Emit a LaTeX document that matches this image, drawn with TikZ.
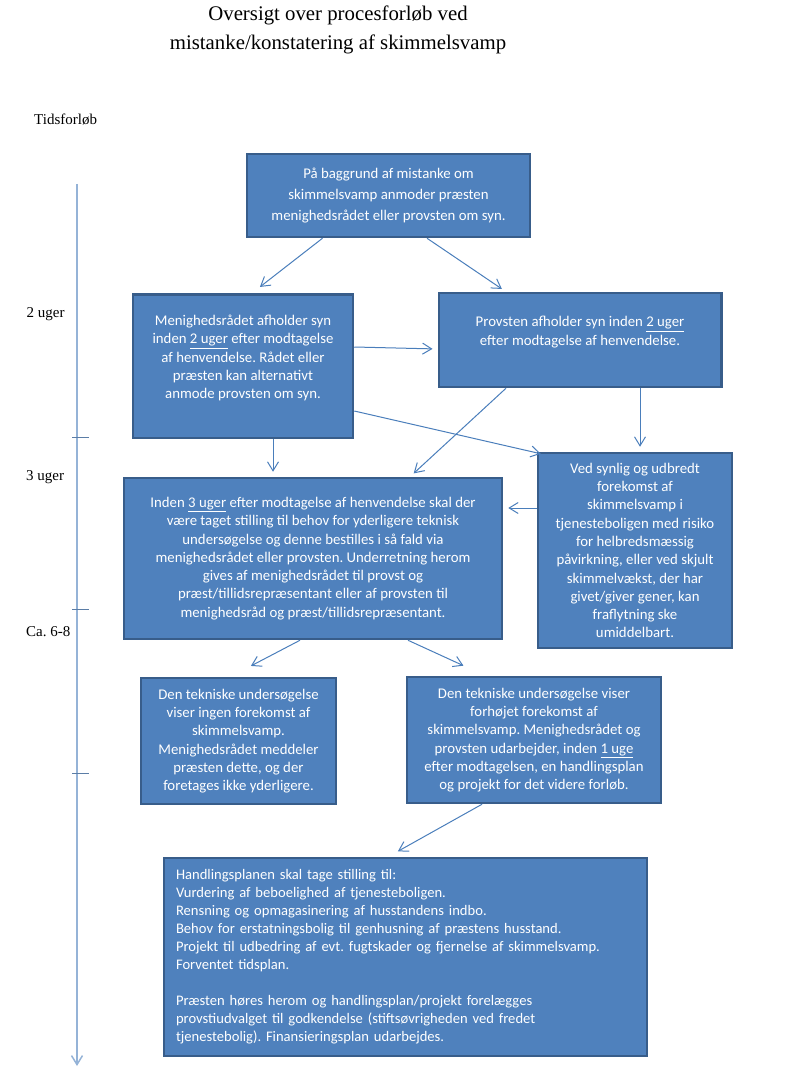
\documentclass[tikz,border=0pt]{standalone}
\usepackage{fontspec}
\setmainfont{Carlito}
\newfontfamily\titelfont{Liberation Serif}
\usetikzlibrary{arrows.meta}
\frenchspacing
\definecolor{boksblaa}{HTML}{4F81BD}
\definecolor{kantblaa}{HTML}{385D8A}
\definecolor{pilblaa}{HTML}{4A7EBB}
\definecolor{tidblaa}{HTML}{95B3D7}
\definecolor{stregblaa}{HTML}{5B7DA6}
\begin{document}
\begin{tikzpicture}[x=1pt,y=-1pt,
  boks/.style={draw=kantblaa,line width=2.5pt,fill=boksblaa,text=white,align=center,
    inner sep=0pt,font=\fontsize{14.8}{18.3}\selectfont},
  pil/.style={draw=pilblaa,line width=1pt,-{Straight Barb[length=9pt,width=11pt]},shorten >=5pt},
  tid/.style={draw=tidblaa,line width=1.5pt,-{Straight Barb[length=9pt,width=11pt]}},
  streg/.style={draw=stregblaa,line width=1pt},
  etiket/.style={anchor=west,inner sep=0pt,font=\titelfont\fontsize{15}{18}\selectfont}]
\useasboundingbox (0,0) rectangle (792,1075);
%
\node[font=\titelfont\fontsize{20.8}{29}\selectfont,align=center](titel) at (338,29.5)
  {Oversigt over procesforløb ved\\mistanke/konstatering af skimmelsvamp};
\node[etiket](tidsforloeb) at (34,120){Tidsforløb};
\node[etiket](uge2) at (26.5,314){2 uger};
\node[etiket](uge3) at (26,477){3 uger};
\node[etiket](uge68) at (26,632){Ca. 6-8};
%
\coordinate(t0) at (77,184);
\coordinate(t1) at (77,1066);
\draw[tid](t0)--(t1);
\foreach \y in {437,609,773}
  \draw[streg](72,\y)--(89,\y);
%
\node[boks,minimum width=283pt,minimum height=83pt,font=\fontsize{14.8}{21.3}\selectfont](start) at (388.5,195.5)
  {På baggrund af mistanke om\\skimmelsvamp anmoder præsten\\menighedsrådet eller provsten om syn.};
\node[boks,minimum width=220pt,minimum height=143.5pt](mr) at (243,366)
  {Menighedsrådet afholder syn\\inden \underline{2 uger} efter modtagelse\\af henvendelse. Rådet eller\\præsten kan alternativt\\anmode provsten om syn.\\\mbox{}};
\node[boks,minimum width=282.5pt,minimum height=94pt](prov) at (580,340)
  {Provsten afholder syn inden \underline{2 uger}\\efter modtagelse af henvendelse.\\\mbox{}};
\node[boks,minimum width=378pt,minimum height=161pt](midt) at (313,558.5)
  {Inden \underline{3 uger} efter modtagelse af henvendelse skal der\\være taget stilling til behov for yderligere teknisk\\undersøgelse og denne bestilles i så fald via\\menighedsrådet eller provsten. Underretning herom\\gives af menighedsrådet til provst og\\præst/tillidsrepræsentant eller af provsten til\\menighedsråd og præst/tillidsrepræsentant.};
\node[boks,minimum width=194pt,minimum height=195pt](akut) at (635,550.5)
  {Ved synlig og udbredt\\forekomst af\\skimmelsvamp i\\tjenesteboligen med risiko\\for helbredsmæssig\\påvirkning, eller ved skjult\\skimmelvækst, der har\\givet/giver gener, kan\\fraflytning ske\\umiddelbart.};
\node[boks,minimum width=195pt,minimum height=126pt](ingen) at (238.5,741)
  {Den tekniske undersøgelse\\viser ingen forekomst af\\skimmelsvamp.\\Menighedsrådet meddeler\\præsten dette, og der\\foretages ikke yderligere.};
\node[boks,minimum width=254pt,minimum height=126pt](forh) at (534,740)
  {Den tekniske undersøgelse viser\\forhøjet forekomst af\\skimmelsvamp. Menighedsrådet og\\provsten udarbejder, inden \underline{1 uge}\\efter modtagelsen, en handlingsplan\\og projekt for det videre forløb.};
\node[boks,minimum height=198pt,text width=459pt,inner xsep=12pt,align=left,font=\fontsize{14.6}{18}\selectfont](plan) at (405.5,957)
  {Handlingsplanen skal tage stilling til:\\Vurdering af beboelighed af tjenesteboligen.\\Rensning og opmagasinering af husstandens indbo.\\Behov for erstatningsbolig til genhusning af præstens husstand.\\Projekt til udbedring af evt. fugtskader og fjernelse af skimmelsvamp.\\Forventet tidsplan.\\[18pt]Præsten høres herom og handlingsplan/projekt forelægges\\provstiudvalget til godkendelse (stiftsøvrigheden ved fredet\\tjenestebolig). Finansieringsplan udarbejdes.};
%
\draw[pil]([xshift=-66pt]start.south)--([xshift=13pt,yshift=3pt]mr.north);
\draw[pil]([xshift=38.5pt]start.south)--([xshift=-74pt]prov.north);
\draw[pil]([yshift=19pt]mr.east)--([yshift=-9pt]prov.west);
\draw[pil,shorten >=0pt]([yshift=-45pt]mr.east)--([xshift=4pt,yshift=-2pt]akut.north west);
\draw[pil]([xshift=30pt]mr.south)--([xshift=-40pt]midt.north);
\draw[pil]([xshift=-74pt]prov.south)--([xshift=97pt]midt.north);
\draw[pil]([xshift=60pt]prov.south)--([xshift=5pt]akut.north);
\draw[pil]([yshift=42.5pt]akut.west)--([yshift=50.5pt]midt.east);
\draw[pil]([xshift=-13pt]midt.south)--([xshift=8pt,yshift=8.5pt]ingen.north);
\draw[pil]([xshift=95pt]midt.south)--([xshift=-66pt,yshift=8pt]forh.north);
\draw[pil]([xshift=-52pt]forh.south)--([xshift=-12pt,yshift=3pt]plan.north);
\end{tikzpicture}
\end{document}
